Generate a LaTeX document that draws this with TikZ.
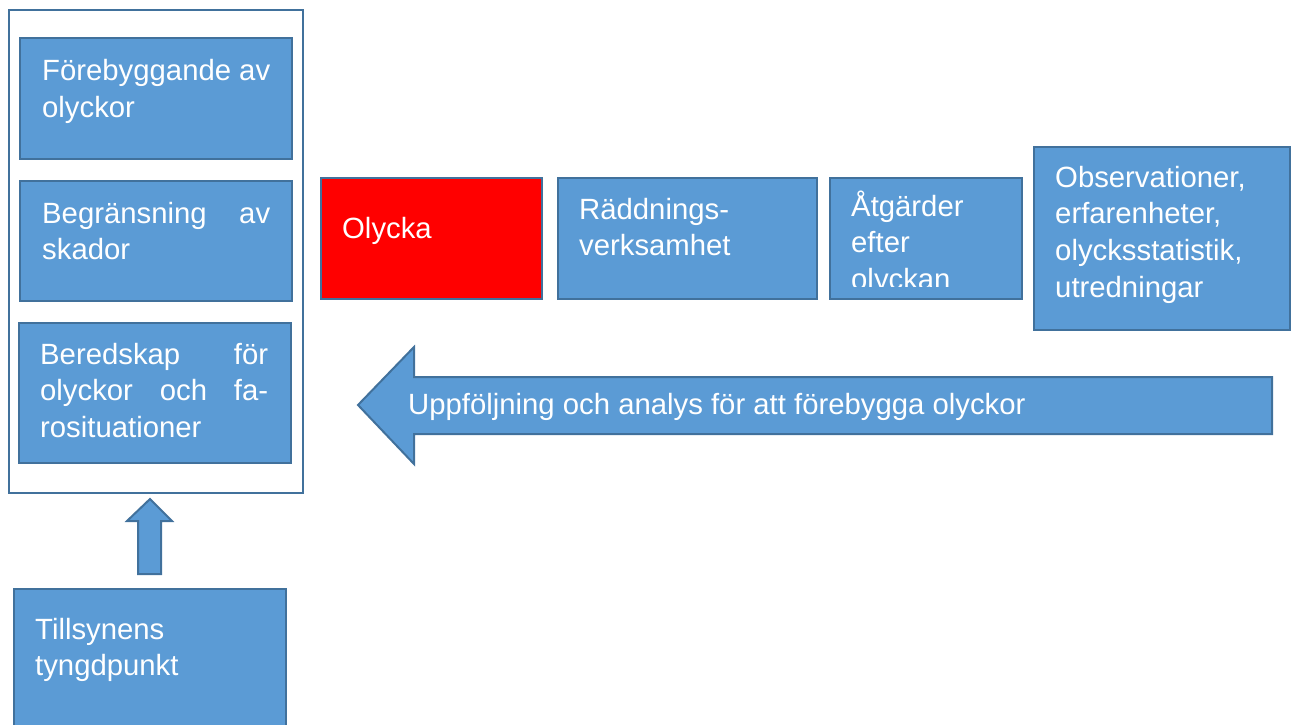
\documentclass[tikz,border=0pt]{standalone}
\usepackage{fontspec}
\setmainfont{Liberation Sans}
\definecolor{fillblue}{HTML}{5B9BD5}
\definecolor{edgeblue}{HTML}{41719C}
\definecolor{accred}{HTML}{FF0000}
\begin{document}
\begin{tikzpicture}[x=1pt,y=-1pt,
  box/.style={draw=edgeblue, fill=fillblue, line width=2pt, inner sep=0pt, anchor=north west},
  framebox/.style={draw=edgeblue, fill=white, line width=2pt, inner sep=0pt, anchor=north west},
  txt/.style={text=white, inner sep=0pt, anchor=base west, font=\fontsize{29.3}{36.7}\selectfont},
  arrowshape/.style={draw=edgeblue, fill=fillblue, line width=2pt, line join=miter}]
\useasboundingbox (0,0) rectangle (1291,725);
% left frame
\node[framebox, minimum width=294pt, minimum height=483pt] (frame) at (8,9) {};
\node[box, minimum width=272pt, minimum height=121pt] (b1) at (19,37) {};
\node[txt] (t1) at ([shift={(23,44)}]b1.north west) {\parbox[t]{228pt}{Förebyggande av\\olyckor}};
\node[box, minimum width=272pt, minimum height=120pt] (b2) at (19,180) {};
\node[txt] (t2) at ([shift={(23,43)}]b2.north west) {\parbox[t]{228pt}{Begränsning\hfill av\\skador}};
\node[box, minimum width=272pt, minimum height=140pt] (b3) at (18,322) {};
\node[txt] (t3) at ([shift={(22,42)}]b3.north west) {\parbox[t]{228pt}{Beredskap\hfill för\\olyckor\hfill och\hfill fa-\\rosituationer}};
% up arrow
\coordinate (ua) at (138,574);
\draw[arrowshape] (ua) -- (138,521) -- (127,521) -- (150,499) -- (172,521) -- (161,521) -- (161,574) -- cycle;
% bottom box
\node[box, minimum width=272pt, minimum height=152pt] (b4) at (13,588) {};
\node[txt] (t4) at ([shift={(22,51)}]b4.north west) {\parbox[t]{240pt}{Tillsynens\\tyngdpunkt}};
% row
\node[box, fill=accred, minimum width=221pt, minimum height=121pt] (r1) at (320,177) {};
\node[txt] (s1) at ([shift={(22,61)}]r1.north west) {\parbox[t]{190pt}{Olycka}};
\node[box, minimum width=259pt, minimum height=121pt] (r2) at (557,177) {};
\node[txt] (s2) at ([shift={(22,42)}]r2.north west) {\parbox[t]{230pt}{Räddnings-\\verksamhet}};
\node[box, minimum width=192pt, minimum height=121pt] (r3) at (829,177) {};
\begin{scope}
\clip (829,177) rectangle (1021,286);
\node[txt] (s3) at ([shift={(22,39)}]r3.north west) {\parbox[t]{165pt}{Åtgärder\\efter\\olyckan}};
\end{scope}
\node[box, minimum width=256pt, minimum height=183pt] (r4) at (1033,146) {};
\node[txt] (s4) at ([shift={(22,41)}]r4.north west) {\parbox[t]{230pt}{Observationer,\\erfarenheter,\\olycksstatistik,\\utredningar}};
% big left arrow
\draw[arrowshape] (1272,377) -- (414,377) -- (414,347) -- (358,405) -- (414,464) -- (414,434) -- (1272,434) -- cycle;
\node[txt] (s5) at (408,414) {Uppföljning och analys för att förebygga olyckor};
\end{tikzpicture}
\end{document}
